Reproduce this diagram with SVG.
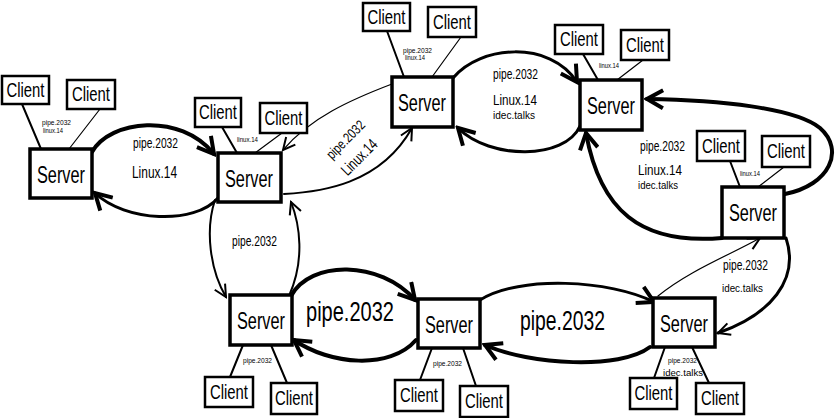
<svg xmlns="http://www.w3.org/2000/svg" width="836" height="418" viewBox="0 0 836 418">
<style>
.srv rect{fill:#fff;stroke:#000;stroke-width:3.5}
.cli rect{fill:#fff;stroke:#000;stroke-width:2.5}
text{font-family:"Liberation Sans Narrow","Liberation Sans",sans-serif;fill:#000}
.st{font-size:24px;text-anchor:middle}
.ct{font-size:21px;text-anchor:middle}
.lbl{font-size:14px}
.sm{font-size:7px}
.c path{fill:none;stroke:#000;stroke-linecap:round}
.w1{stroke-width:1.2}
.w2{stroke-width:2}
.w3{stroke-width:3}
.w4{stroke-width:4}
.ab{marker-end:url(#ab)}
.as{marker-end:url(#as)}
</style>
<defs>
<marker id="ab" markerUnits="userSpaceOnUse" markerWidth="22" markerHeight="22" viewBox="0 0 22 22" refX="19" refY="11" orient="auto">
<path d="M3,2 L19,11 L3,20" fill="none" stroke="#000" stroke-width="4" stroke-linejoin="miter"/>
</marker>
<marker id="as" markerUnits="userSpaceOnUse" markerWidth="16" markerHeight="16" viewBox="0 0 16 16" refX="14" refY="8" orient="auto">
<path d="M2,2 L14,8 L2,14" fill="none" stroke="#000" stroke-width="2"/>
</marker>
</defs>

<g id="connectors" class="c">
<path class="w2" d="M22,104 L41,149"/><path class="w1" d="M100,109 L69,149"/>
<path class="w2" d="M222,127 L237,153"/><path class="w1" d="M282,133 L255,153"/>
<path class="w2" d="M387,31 L404,77"/><path class="w1" d="M461,37 L432,77"/>
<path class="w2" d="M583,54 L598,80"/><path class="w1" d="M643,60 L617,80"/>
<path class="w2" d="M730,161 L740,187"/><path class="w1" d="M784,167 L758,187"/>
<path class="w2" d="M243,345 L230,377"/><path class="w2" d="M271,345 L287,383"/>
<path class="w2" d="M432,348 L420,380"/><path class="w2" d="M463,348 L476,386"/>
<path class="w2" d="M665,347 L654,378"/><path class="w2" d="M692,347 L709,383"/>
<path class="w4 ab" d="M92,152 C110,120 180,112 214,154"/>
<path class="w3 ab" d="M218,198 C195,225 125,222 95,193"/>
<path class="w1 as" d="M392,84 C350,100 310,118 283,150"/>
<path class="w2 as" d="M284,194 C320,192 380,185 412,128"/>
<path class="w3 ab" d="M453,78 C480,45 550,40 577,82"/>
<path class="w3 ab" d="M580,126 C565,160 490,160 458,128"/>
<path class="w4 ab" d="M785,194 C830,185 845,150 820,128 C795,108 720,100 647,99"/>
<path class="w1" d="M662,90 L648,99"/>
<path class="w4 ab" d="M722,238 C640,245 600,210 586,133"/>
<path class="w2 as" d="M215,200 C205,230 210,270 226,297"/>
<path class="w2 as" d="M289,296 C305,260 300,225 291,202"/>
<path class="w4 ab" d="M291,296 C310,260 380,260 415,300"/>
<path class="w4 ab" d="M416,340 C390,370 330,365 294,340"/>
<path class="w3 ab" d="M480,300 C520,275 610,280 654,302"/>
<path class="w4 ab" d="M650,347 C620,370 530,365 485,345"/>
<path class="w1 as" d="M658,296 C690,270 730,255 760,238"/>
<path class="w3 as" d="M786,238 C800,280 770,315 718,333"/>
</g>

<g id="labels">
<text class="sm" x="42" y="125" textLength="29" lengthAdjust="spacingAndGlyphs">pipe.2032</text>
<text class="sm" x="43" y="133" textLength="20" lengthAdjust="spacingAndGlyphs">linux.14</text>
<text class="sm" x="237" y="142" textLength="21" lengthAdjust="spacingAndGlyphs">linux.14</text>
<text class="sm" x="403" y="53" textLength="29" lengthAdjust="spacingAndGlyphs">pipe.2032</text>
<text class="sm" x="405" y="60" textLength="20" lengthAdjust="spacingAndGlyphs">linux.14</text>
<text class="sm" x="599" y="68" textLength="20" lengthAdjust="spacingAndGlyphs">linux.14</text>
<text class="sm" x="740" y="176" textLength="20" lengthAdjust="spacingAndGlyphs">linux.14</text>
<text class="sm" x="243" y="363" textLength="29" lengthAdjust="spacingAndGlyphs">pipe.2032</text>
<text class="sm" x="433" y="366" textLength="29" lengthAdjust="spacingAndGlyphs">pipe.2032</text>
<text class="sm" x="668" y="363" textLength="29" lengthAdjust="spacingAndGlyphs">pipe.2032</text>
<text class="sm" x="663" y="376" textLength="40" lengthAdjust="spacingAndGlyphs" style="font-size:9px">idec.talks</text>

<text class="lbl" x="133" y="148" textLength="45" lengthAdjust="spacingAndGlyphs">pipe.2032</text>
<text class="lbl" x="132" y="178" textLength="45" lengthAdjust="spacingAndGlyphs" style="font-size:16px">Linux.14</text>
<text class="lbl" text-anchor="middle" transform="translate(349,143) rotate(-45)" textLength="48" lengthAdjust="spacingAndGlyphs">pipe.2032</text>
<text class="lbl" text-anchor="middle" transform="translate(363,161) rotate(-45)" textLength="44" lengthAdjust="spacingAndGlyphs" style="font-size:16px">Linux.14</text>
<text class="lbl" x="493" y="79" textLength="45" lengthAdjust="spacingAndGlyphs">pipe.2032</text>
<text class="lbl" x="493" y="105" textLength="44" lengthAdjust="spacingAndGlyphs" style="font-size:15px">Linux.14</text>
<text class="lbl" x="493" y="119" textLength="42" lengthAdjust="spacingAndGlyphs" style="font-size:11px">idec.talks</text>
<text class="lbl" x="640" y="151" textLength="45" lengthAdjust="spacingAndGlyphs">pipe.2032</text>
<text class="lbl" x="638" y="175" textLength="44" lengthAdjust="spacingAndGlyphs" style="font-size:15px">Linux.14</text>
<text class="lbl" x="638" y="189" textLength="40" lengthAdjust="spacingAndGlyphs" style="font-size:11px">idec.talks</text>
<text class="lbl" x="232" y="246" textLength="45" lengthAdjust="spacingAndGlyphs">pipe.2032</text>
<text class="lbl" x="306" y="321" textLength="88" lengthAdjust="spacingAndGlyphs" style="font-size:27px">pipe.2032</text>
<text class="lbl" x="520" y="330" textLength="85" lengthAdjust="spacingAndGlyphs" style="font-size:27px">pipe.2032</text>
<text class="lbl" x="723" y="270" textLength="45" lengthAdjust="spacingAndGlyphs">pipe.2032</text>
<text class="lbl" x="722" y="292" textLength="41" lengthAdjust="spacingAndGlyphs" style="font-size:11px">idec.talks</text>
</g>

<g id="server1" class="srv"><rect x="30" y="149" width="62" height="49"/><text class="st" x="61" y="183" textLength="48" lengthAdjust="spacingAndGlyphs">Server</text></g>
<g id="server2" class="srv"><rect x="218" y="153" width="63" height="49"/><text class="st" x="249" y="187" textLength="48" lengthAdjust="spacingAndGlyphs">Server</text></g>
<g id="server3" class="srv"><rect x="392" y="77" width="61" height="50"/><text class="st" x="422" y="111" textLength="48" lengthAdjust="spacingAndGlyphs">Server</text></g>
<g id="server4" class="srv"><rect x="580" y="80" width="62" height="50"/><text class="st" x="611" y="114" textLength="48" lengthAdjust="spacingAndGlyphs">Server</text></g>
<g id="server5" class="srv"><rect x="722" y="187" width="62" height="51"/><text class="st" x="753" y="221" textLength="48" lengthAdjust="spacingAndGlyphs">Server</text></g>
<g id="server6" class="srv"><rect x="230" y="295" width="62" height="50"/><text class="st" x="261" y="329" textLength="48" lengthAdjust="spacingAndGlyphs">Server</text></g>
<g id="server7" class="srv"><rect x="418" y="299" width="62" height="49"/><text class="st" x="449" y="333" textLength="48" lengthAdjust="spacingAndGlyphs">Server</text></g>
<g id="server8" class="srv"><rect x="653" y="298" width="62" height="49"/><text class="st" x="684" y="332" textLength="48" lengthAdjust="spacingAndGlyphs">Server</text></g>

<g id="client1a" class="cli"><rect x="2" y="76" width="47" height="28"/><text class="ct" x="25.5" y="97" textLength="38" lengthAdjust="spacingAndGlyphs">Client</text></g>
<g id="client1b" class="cli"><rect x="67" y="80" width="48" height="29"/><text class="ct" x="91" y="101" textLength="38" lengthAdjust="spacingAndGlyphs">Client</text></g>
<g id="client2a" class="cli"><rect x="195" y="98" width="46" height="29"/><text class="ct" x="218" y="119" textLength="38" lengthAdjust="spacingAndGlyphs">Client</text></g>
<g id="client2b" class="cli"><rect x="260" y="103" width="47" height="30"/><text class="ct" x="283.5" y="125" textLength="38" lengthAdjust="spacingAndGlyphs">Client</text></g>
<g id="client3a" class="cli"><rect x="363" y="3" width="47" height="28"/><text class="ct" x="386.5" y="24" textLength="38" lengthAdjust="spacingAndGlyphs">Client</text></g>
<g id="client3b" class="cli"><rect x="428" y="7" width="48" height="30"/><text class="ct" x="452" y="29" textLength="38" lengthAdjust="spacingAndGlyphs">Client</text></g>
<g id="client4a" class="cli"><rect x="555" y="25" width="48" height="29"/><text class="ct" x="579" y="46" textLength="38" lengthAdjust="spacingAndGlyphs">Client</text></g>
<g id="client4b" class="cli"><rect x="621" y="30" width="48" height="30"/><text class="ct" x="645" y="52" textLength="38" lengthAdjust="spacingAndGlyphs">Client</text></g>
<g id="client5a" class="cli"><rect x="697" y="131" width="48" height="30"/><text class="ct" x="721" y="153" textLength="38" lengthAdjust="spacingAndGlyphs">Client</text></g>
<g id="client5b" class="cli"><rect x="762" y="136" width="48" height="31"/><text class="ct" x="786" y="158" textLength="38" lengthAdjust="spacingAndGlyphs">Client</text></g>
<g id="client6a" class="cli"><rect x="205" y="377" width="48" height="30"/><text class="ct" x="229" y="399" textLength="38" lengthAdjust="spacingAndGlyphs">Client</text></g>
<g id="client6b" class="cli"><rect x="271" y="383" width="46" height="31"/><text class="ct" x="294" y="405" textLength="38" lengthAdjust="spacingAndGlyphs">Client</text></g>
<g id="client7a" class="cli"><rect x="395" y="380" width="48" height="31"/><text class="ct" x="419" y="402" textLength="38" lengthAdjust="spacingAndGlyphs">Client</text></g>
<g id="client7b" class="cli"><rect x="460" y="386" width="48" height="31"/><text class="ct" x="484" y="408" textLength="38" lengthAdjust="spacingAndGlyphs">Client</text></g>
<g id="client8a" class="cli"><rect x="630" y="378" width="47" height="31"/><text class="ct" x="653.5" y="400" textLength="38" lengthAdjust="spacingAndGlyphs">Client</text></g>
<g id="client8b" class="cli"><rect x="696" y="383" width="48" height="31"/><text class="ct" x="720" y="405" textLength="38" lengthAdjust="spacingAndGlyphs">Client</text></g>
</svg>
